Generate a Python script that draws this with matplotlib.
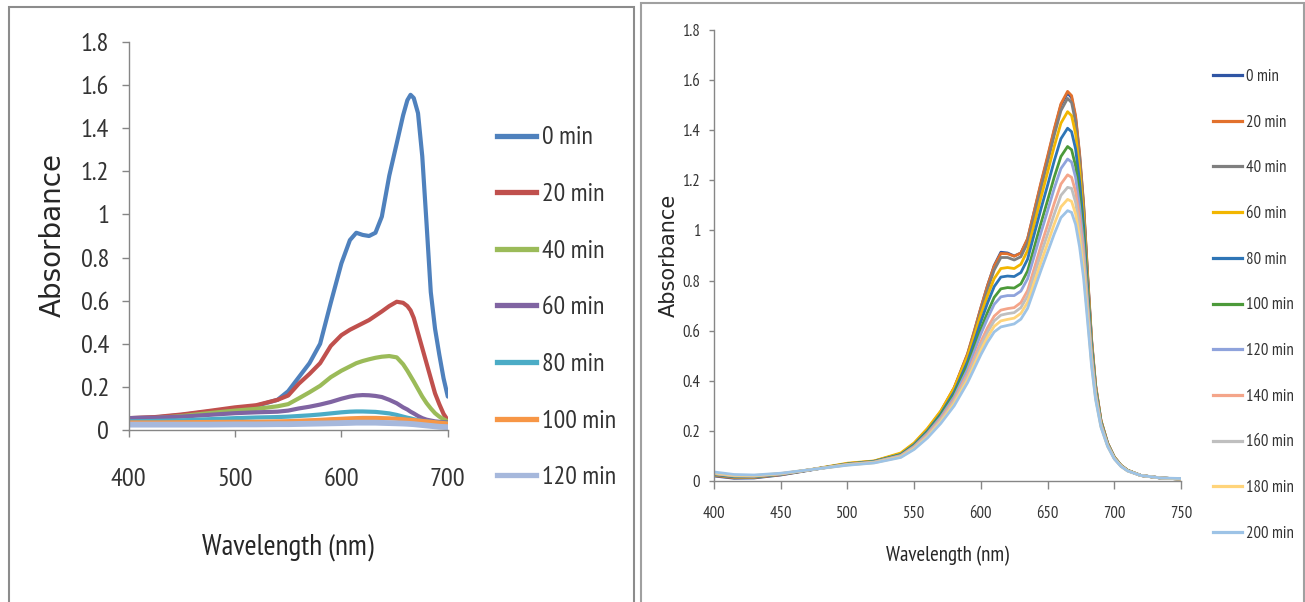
import matplotlib
matplotlib.use("Agg")
import matplotlib.pyplot as plt
from matplotlib.lines import Line2D
from matplotlib.patches import Rectangle
from matplotlib.ticker import FuncFormatter

NARROW = ["PT Sans Narrow", "Roboto Condensed", "DejaVu Sans"]
WIDE = ["DejaVu Sans"]

# ---------------------------------------------------------------------------
# Left panel data (0-120 min)
# ---------------------------------------------------------------------------
wl_left = [400, 425, 450, 475, 500, 520, 540, 550, 560, 570, 580, 590, 600, 608,
           614, 620, 626, 632, 638, 645, 652, 658, 662, 665, 668, 672, 676, 680,
           684, 688, 692, 696, 700]

labels_left = ["0 min", "20 min", "40 min", "60 min", "80 min", "100 min", "120 min"]
colors_left = ["#4F81BD", "#C0504D", "#9BBB59", "#8064A2", "#4BACC6", "#F79646", "#A6B8DC"]

abs_l_0 = [0.055, 0.058, 0.070, 0.085, 0.100, 0.112, 0.140, 0.180, 0.245, 0.310,
           0.400, 0.590, 0.773, 0.881, 0.915, 0.905, 0.900, 0.915, 0.990, 1.180,
           1.330, 1.460, 1.530, 1.555, 1.540, 1.470, 1.270, 0.960, 0.640, 0.470,
           0.350, 0.240, 0.155]
abs_l_20 = [0.055, 0.060, 0.072, 0.088, 0.105, 0.115, 0.140, 0.160, 0.215, 0.260,
            0.310, 0.390, 0.440, 0.465, 0.480, 0.495, 0.510, 0.530, 0.550, 0.575,
            0.595, 0.590, 0.575, 0.555, 0.520, 0.450, 0.380, 0.310, 0.240, 0.170,
            0.120, 0.075, 0.045]
abs_l_40 = [0.050, 0.055, 0.065, 0.078, 0.090, 0.098, 0.110, 0.120, 0.147, 0.175,
            0.205, 0.245, 0.275, 0.295, 0.310, 0.320, 0.328, 0.335, 0.340, 0.343,
            0.337, 0.305, 0.275, 0.250, 0.225, 0.190, 0.155, 0.125, 0.100, 0.078,
            0.062, 0.050, 0.040]
abs_l_60 = [0.055, 0.057, 0.062, 0.070, 0.078, 0.082, 0.085, 0.090, 0.100, 0.108,
            0.118, 0.130, 0.145, 0.155, 0.160, 0.162, 0.161, 0.158, 0.153, 0.140,
            0.124, 0.105, 0.095, 0.085, 0.077, 0.065, 0.055, 0.048, 0.044, 0.040,
            0.038, 0.036, 0.035]
abs_l_80 = [0.040, 0.042, 0.045, 0.050, 0.055, 0.058, 0.060, 0.062, 0.065, 0.068,
            0.072, 0.077, 0.082, 0.085, 0.086, 0.086, 0.085, 0.084, 0.081, 0.077,
            0.070, 0.062, 0.057, 0.054, 0.050, 0.046, 0.042, 0.040, 0.038, 0.036,
            0.034, 0.033, 0.032]
abs_l_100 = [0.035, 0.035, 0.036, 0.037, 0.038, 0.038, 0.040, 0.041, 0.043, 0.045,
             0.047, 0.050, 0.052, 0.054, 0.055, 0.056, 0.056, 0.056, 0.055, 0.054,
             0.052, 0.050, 0.048, 0.047, 0.046, 0.044, 0.042, 0.040, 0.038, 0.036,
             0.034, 0.032, 0.030]
abs_l_120 = [0.025, 0.025, 0.025, 0.025, 0.026, 0.026, 0.027, 0.027, 0.028, 0.029,
             0.030, 0.031, 0.032, 0.033, 0.034, 0.034, 0.034, 0.034, 0.033, 0.032,
             0.031, 0.030, 0.029, 0.028, 0.027, 0.025, 0.023, 0.021, 0.019, 0.017,
             0.015, 0.014, 0.013]

series_left = [abs_l_0, abs_l_20, abs_l_40, abs_l_60, abs_l_80, abs_l_100, abs_l_120]

# ---------------------------------------------------------------------------
# Right panel data (0-200 min)
# ---------------------------------------------------------------------------
wl_right = [400, 415, 430, 450, 475, 500, 520, 540, 550, 560, 570, 580, 590, 595,
            600, 605, 610, 615, 620, 625, 630, 635, 640, 645, 650, 655, 660, 665,
            668, 671, 674, 677, 680, 683, 686, 690, 695, 700, 705, 710, 720, 735, 750]

labels_right = ["0 min", "20 min", "40 min", "60 min", "80 min", "100 min",
                "120 min", "140 min", "160 min", "180 min", "200 min"]
colors_right = ["#2F55A4", "#E2712D", "#7F7F7F", "#F2B600", "#2E75B6", "#4C9A3A",
                "#8FA3DC", "#F4A58A", "#BFBFBF", "#FFD47A", "#9DC3E6"]

abs_r_0 = [0.020, 0.011, 0.012, 0.024, 0.046, 0.068, 0.078, 0.108, 0.148, 0.205,
           0.275, 0.370, 0.505, 0.595, 0.690, 0.780, 0.860, 0.913, 0.910, 0.898,
           0.910, 0.965, 1.075, 1.185, 1.290, 1.400, 1.500, 1.548, 1.530, 1.450,
           1.300, 1.100, 0.820, 0.560, 0.380, 0.240, 0.150, 0.095, 0.062, 0.042,
           0.022, 0.012, 0.008]
abs_r_20 = [0.022, 0.013, 0.014, 0.025, 0.047, 0.069, 0.079, 0.109, 0.150, 0.207,
            0.278, 0.373, 0.508, 0.598, 0.692, 0.780, 0.858, 0.908, 0.907, 0.897,
            0.910, 0.967, 1.078, 1.190, 1.296, 1.405, 1.505, 1.555, 1.538, 1.458,
            1.308, 1.108, 0.828, 0.566, 0.385, 0.243, 0.152, 0.096, 0.063, 0.043,
            0.022, 0.012, 0.008]
abs_r_40 = [0.024, 0.015, 0.015, 0.026, 0.047, 0.069, 0.079, 0.108, 0.148, 0.205,
            0.275, 0.368, 0.500, 0.588, 0.680, 0.765, 0.842, 0.892, 0.892, 0.882,
            0.895, 0.950, 1.058, 1.167, 1.272, 1.380, 1.478, 1.527, 1.510, 1.432,
            1.285, 1.088, 0.812, 0.556, 0.378, 0.240, 0.150, 0.095, 0.062, 0.042,
            0.022, 0.012, 0.008]
abs_r_60 = [0.025, 0.016, 0.016, 0.027, 0.048, 0.071, 0.080, 0.112, 0.152, 0.210,
            0.280, 0.372, 0.498, 0.580, 0.665, 0.740, 0.808, 0.848, 0.852, 0.848,
            0.865, 0.920, 1.025, 1.130, 1.232, 1.335, 1.428, 1.474, 1.458, 1.385,
            1.245, 1.058, 0.795, 0.548, 0.375, 0.240, 0.150, 0.096, 0.063, 0.043,
            0.022, 0.012, 0.008]
abs_r_80 = [0.026, 0.017, 0.017, 0.027, 0.047, 0.068, 0.078, 0.106, 0.145, 0.200,
            0.268, 0.355, 0.476, 0.555, 0.636, 0.710, 0.776, 0.814, 0.818, 0.816,
            0.832, 0.885, 0.985, 1.085, 1.180, 1.278, 1.366, 1.408, 1.394, 1.325,
            1.195, 1.020, 0.772, 0.536, 0.368, 0.236, 0.148, 0.094, 0.062, 0.042,
            0.022, 0.012, 0.008]
abs_r_100 = [0.028, 0.019, 0.018, 0.028, 0.047, 0.067, 0.077, 0.104, 0.142, 0.195,
             0.262, 0.345, 0.460, 0.533, 0.607, 0.673, 0.733, 0.767, 0.772, 0.770,
             0.787, 0.838, 0.932, 1.028, 1.120, 1.213, 1.295, 1.335, 1.322, 1.258,
             1.137, 0.975, 0.742, 0.520, 0.360, 0.232, 0.146, 0.093, 0.061, 0.042,
             0.022, 0.012, 0.008]
abs_r_120 = [0.029, 0.020, 0.019, 0.028, 0.047, 0.066, 0.076, 0.102, 0.139, 0.191,
             0.256, 0.336, 0.446, 0.516, 0.587, 0.649, 0.705, 0.735, 0.740, 0.740,
             0.758, 0.807, 0.898, 0.990, 1.078, 1.168, 1.247, 1.285, 1.273, 1.212,
             1.097, 0.942, 0.722, 0.508, 0.354, 0.229, 0.145, 0.092, 0.061, 0.041,
             0.022, 0.012, 0.008]
abs_r_140 = [0.030, 0.021, 0.020, 0.029, 0.047, 0.066, 0.075, 0.100, 0.135, 0.185,
             0.248, 0.325, 0.428, 0.492, 0.556, 0.612, 0.658, 0.682, 0.688, 0.692,
             0.712, 0.760, 0.848, 0.938, 1.022, 1.108, 1.185, 1.222, 1.212, 1.155,
             1.048, 0.902, 0.696, 0.492, 0.345, 0.225, 0.143, 0.091, 0.060, 0.041,
             0.022, 0.012, 0.008]
abs_r_160 = [0.031, 0.022, 0.021, 0.029, 0.047, 0.065, 0.074, 0.098, 0.132, 0.180,
             0.242, 0.317, 0.416, 0.478, 0.540, 0.594, 0.639, 0.662, 0.668, 0.672,
             0.692, 0.738, 0.822, 0.906, 0.985, 1.065, 1.140, 1.172, 1.168, 1.112,
             1.010, 0.872, 0.676, 0.480, 0.338, 0.221, 0.141, 0.090, 0.060, 0.041,
             0.022, 0.012, 0.008]
abs_r_180 = [0.033, 0.023, 0.022, 0.030, 0.047, 0.064, 0.073, 0.096, 0.129, 0.176,
             0.236, 0.309, 0.404, 0.463, 0.522, 0.574, 0.617, 0.639, 0.645, 0.650,
             0.669, 0.713, 0.792, 0.872, 0.948, 1.025, 1.094, 1.124, 1.116, 1.066,
             0.970, 0.840, 0.655, 0.468, 0.331, 0.218, 0.139, 0.089, 0.059, 0.040,
             0.022, 0.012, 0.008]
abs_r_200 = [0.036, 0.026, 0.024, 0.031, 0.047, 0.063, 0.072, 0.094, 0.126, 0.172,
             0.230, 0.300, 0.392, 0.448, 0.504, 0.554, 0.595, 0.615, 0.621, 0.627,
             0.646, 0.689, 0.764, 0.840, 0.913, 0.986, 1.051, 1.079, 1.072, 1.024,
             0.934, 0.810, 0.636, 0.457, 0.325, 0.215, 0.138, 0.088, 0.058, 0.040,
             0.022, 0.012, 0.010]

series_right = [abs_r_0, abs_r_20, abs_r_40, abs_r_60, abs_r_80, abs_r_100,
                abs_r_120, abs_r_140, abs_r_160, abs_r_180, abs_r_200]


def _excel_axes(ax, tick_size, tick_len, xpad, ypad):
    for side in ("top", "right"):
        ax.spines[side].set_visible(False)
    for side in ("left", "bottom"):
        ax.spines[side].set_color("#868686")
        ax.spines[side].set_linewidth(1.0)
    ax.tick_params(axis="both", direction="out", color="#868686", length=tick_len,
                   width=1.0, labelcolor="#333333", labelsize=tick_size)
    ax.tick_params(axis="x", pad=xpad)
    ax.tick_params(axis="y", pad=ypad)
    for lab in ax.get_xticklabels() + ax.get_yticklabels():
        lab.set_family(NARROW)
    ax.yaxis.set_major_formatter(FuncFormatter(lambda v, p: f"{v:g}"))


fig = plt.figure(figsize=(13.05, 6.02), dpi=100)

# panel frames
fig.add_artist(Rectangle((9 / 1305, -0.1), (634 - 9) / 1305, 1.1 - 7 / 602,
                         transform=fig.transFigure, fill=False,
                         edgecolor="#8C8C8C", linewidth=1.5))
fig.add_artist(Rectangle((641 / 1305, -0.1), (1304 - 641) / 1305, 1.1 - 2.5 / 602,
                         transform=fig.transFigure, fill=False,
                         edgecolor="#A0A0A0", linewidth=1.5))

# ---------------------------------------------------------------------------
# Left panel
# ---------------------------------------------------------------------------
ax1 = fig.add_axes([128.6 / 1305, (602 - 430) / 602, 319.2 / 1305, 388 / 602])
for vals, lab, col in zip(series_left, labels_left, colors_left):
    lw = 4.2 if lab == "120 min" else 3.0
    ax1.plot(wl_left, vals, color=col, linewidth=lw, label=lab,
             solid_capstyle="round", solid_joinstyle="round")
ax1.set_xlim(400, 700)
ax1.set_ylim(0, 1.8)
ax1.set_xticks([400, 500, 600, 700])
ax1.set_yticks([0, 0.2, 0.4, 0.6, 0.8, 1.0, 1.2, 1.4, 1.6, 1.8])
_excel_axes(ax1, 19, 5, 22, 9)
ax1.set_xlabel("Wavelength (nm)", fontsize=21, family=NARROW, color="#262626")
ax1.xaxis.set_label_coords(0.5, -0.3015)
ax1.xaxis.label.set_va("center")
ax1.set_ylabel("Absorbance", fontsize=20, family=WIDE, color="#262626")
ax1.yaxis.set_label_coords(-0.237, 0.5026)
ax1.yaxis.label.set_va("center")

h1 = [Line2D([], [], color=c, linewidth=3.8) for c in colors_left]
leg1 = ax1.legend(h1, labels_left, loc="upper left",
                  bbox_to_anchor=(497 / 1305, 1 - 126.5 / 602),
                  bbox_transform=fig.transFigure, frameon=False,
                  prop={"family": NARROW, "size": 18.5}, borderpad=0,
                  borderaxespad=0, handlelength=1.5, handletextpad=0.25,
                  labelspacing=1.31)
for t in leg1.get_texts():
    t.set_color("#333333")

# ---------------------------------------------------------------------------
# Right panel
# ---------------------------------------------------------------------------
ax2 = fig.add_axes([714 / 1305, (602 - 481) / 602, 467 / 1305, 451 / 602])
for vals, lab, col in zip(series_right, labels_right, colors_right):
    ax2.plot(wl_right, vals, color=col, linewidth=2.0, label=lab,
             solid_capstyle="round", solid_joinstyle="round")
ax2.set_xlim(400, 750)
ax2.set_ylim(0, 1.8)
ax2.set_xticks([400, 450, 500, 550, 600, 650, 700, 750])
ax2.set_yticks([0, 0.2, 0.4, 0.6, 0.8, 1.0, 1.2, 1.4, 1.6, 1.8])
_excel_axes(ax2, 12, 6, 12, 6.5)
ax2.tick_params(axis="y", length=3.5)
ax2.set_xlabel("Wavelength (nm)", fontsize=15, family=NARROW, color="#262626")
ax2.xaxis.set_label_coords(0.499, -0.166)
ax2.xaxis.label.set_va("center")
ax2.set_ylabel("Absorbance", fontsize=15, family=WIDE, color="#262626")
ax2.yaxis.set_label_coords(-0.0964, 0.501)
ax2.yaxis.label.set_va("center")

h2 = [Line2D([], [], color=c, linewidth=2.3) for c in colors_right]
leg2 = ax2.legend(h2, labels_right, loc="upper left",
                  bbox_to_anchor=(1213 / 1305, 1 - 69 / 602),
                  bbox_transform=fig.transFigure, frameon=False,
                  prop={"family": NARROW, "size": 12}, borderpad=0,
                  borderaxespad=0, handlelength=1.75, handletextpad=0.2,
                  labelspacing=1.78)
for t in leg2.get_texts():
    t.set_color("#333333")

fig.savefig("out.png", dpi=100)
